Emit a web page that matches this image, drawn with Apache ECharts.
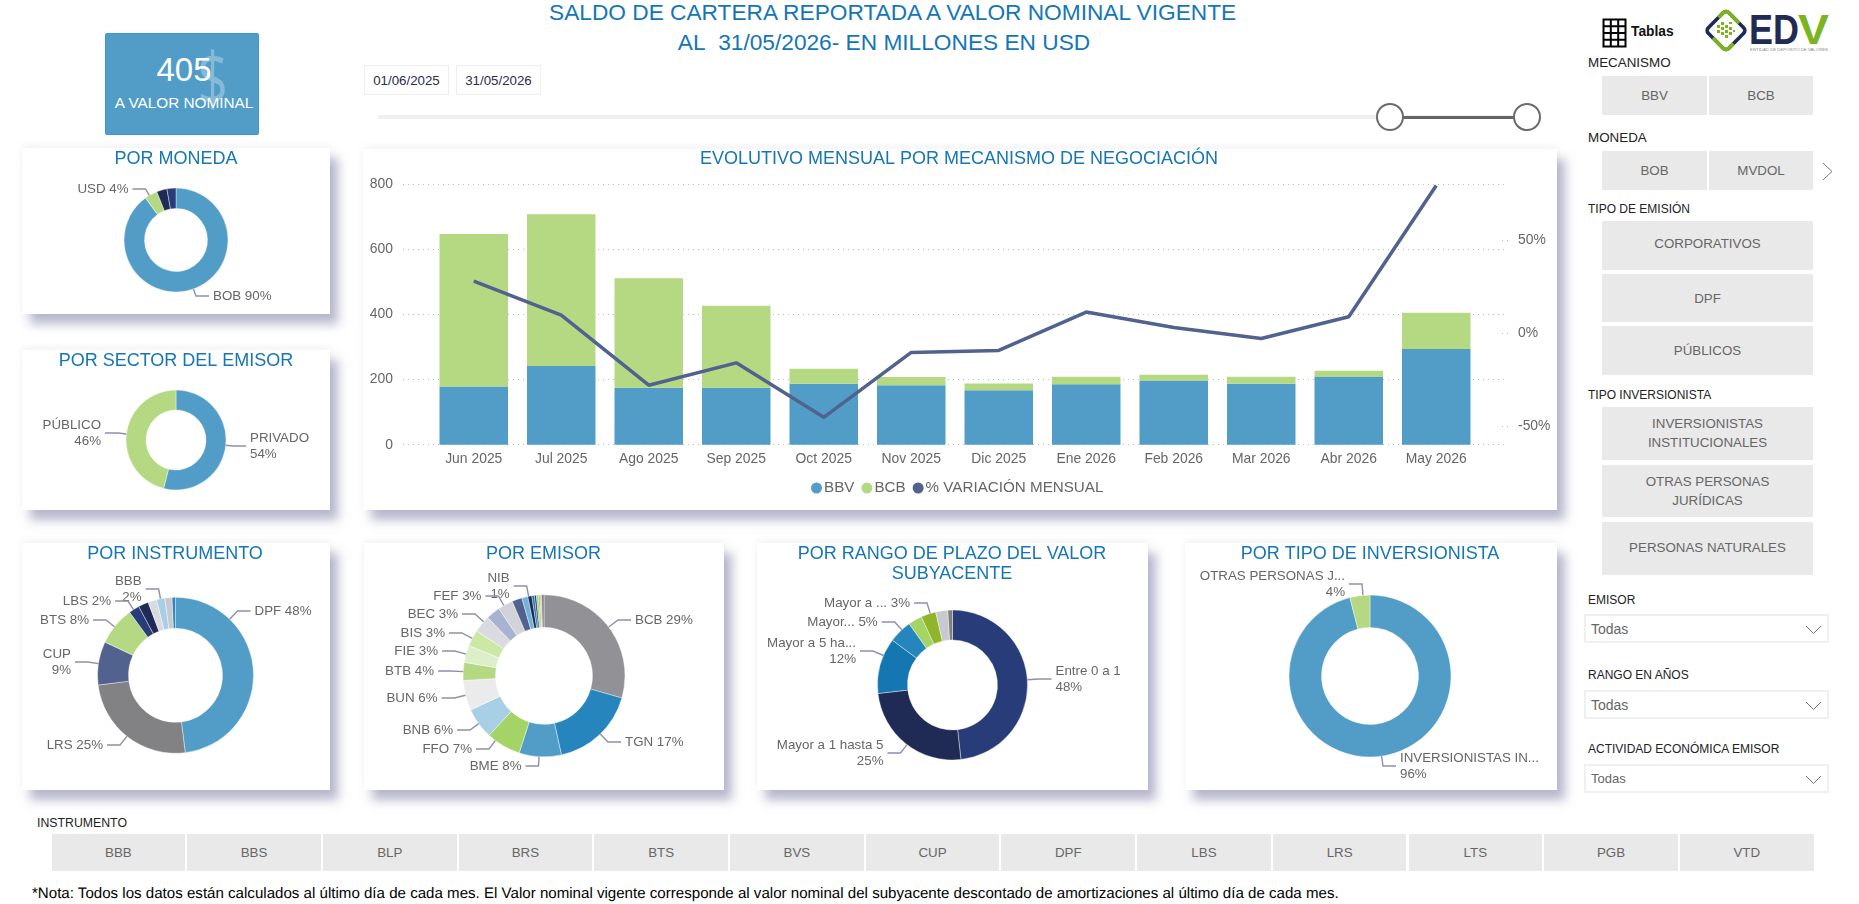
<!DOCTYPE html>
<html lang="es">
<head>
<meta charset="utf-8">
<title>Saldo de cartera</title>
<script src="https://cdn.jsdelivr.net/npm/echarts@6/dist/echarts.min.js"></script>
<style>
  html, body { margin: 0; padding: 0; background: #fff; width: 1859px; height: 904px; overflow: hidden; }
  body { font-family: "Liberation Sans", Arial, sans-serif; position: relative; }
  .abs { position: absolute; box-sizing: border-box; }
  .panel { background: #fff; box-shadow: 8px 10px 10px rgba(112,114,156,.5), 0 -3px 6px rgba(225,225,238,.35); }
  .head { color: #1576b6; font-size: 22.7px; white-space: nowrap; transform: translateX(-50%); line-height: 26px; }
  .kpi { background: #519dc8; border: 1px solid #3a97d2; border-radius: 2px; color: #fff; overflow: hidden; }
  .date { border: 1px solid #eeeef0; color: #2c2c4c; font-size: 13.3px; display: flex; align-items: center; justify-content: center; }
  .cap { color: #222; white-space: nowrap; line-height: 16px; transform: translateY(-50%); }
  .btn { background: #e9e9e9; color: #666; font-size: 13.33px; display: flex; align-items: center; justify-content: center; text-align: center; line-height: 19px; }
  .drop { border: 2px solid #f0f0f1; color: #666; font-size: 14px; display: flex; align-items: center; padding-left: 5px; }
  .note { color: #000; font-size: 15.1px; white-space: nowrap; line-height: 18px; transform: translateY(-50%); text-rendering: geometricPrecision; }
  #chart { position: absolute; left: 0; top: 0; width: 1859px; height: 904px; }
</style>
</head>
<body>
<div id="chrome"></div>
<div id="chart"></div>
<script>
// Monthly balance by trading mechanism
const months = ['Jun 2025','Jul 2025','Ago 2025','Sep 2025','Oct 2025','Nov 2025','Dic 2025','Ene 2026','Feb 2026','Mar 2026','Abr 2026','May 2026'];
const bbvValues = [179,242,175,175,187,183,167,186,197,187,208,294];
const bcbValues = [468,466,336,252,46,25,21,23,18,22,19,111];
const variationValues = [28,9.7,-28,-16,-45.3,-10.4,-9.3,11.3,3,-2.9,8.8,79.4];

// Donut breakdowns, clockwise from twelve o'clock
const monedaNames = ['BOB','USD','MVDOL','UFV'];
const monedaValues = [90,4,3.2,2.8];
const sectorNames = ['PRIVADO','PÚBLICO'];
const sectorValues = [54,46];
const instrumentoNames = ['DPF','LRS','CUP','BTS','LBS','BLP','BBS','BBB','BRS','BVS'];
const instrumentoValues = [48,25,9,8,2.2,2.1,1.8,1.7,1.5,0.7];
const emisorNames = ['BCB','TGN','BME','FFO','BNB','BUN','BTB','FIE','BIS','BEC','BGA','FEF','BPR','NIB','BSO','BIE','TCB','BDP','ECO','SOL','OTR'];
const emisorValues = [29.4,17.1,8.4,6.9,6.2,6,3.6,3.4,3.3,3.4,2.8,3,2,1.2,0.8,0.5,0.4,0.4,0.3,0.3,0.5];
const rangoNames = ['Entre 0 a 1','Mayor a 1 hasta 5','Mayor a 5 ha...','Mayor...','Mayor a 10','Mayor a ...','Mayor a 20','Mayor a 25'];
const rangoValues = [48.2,25,12,5,3,3.2,2.6,1];
const tipoNames = ['INVERSIONISTAS IN...','OTRAS PERSONAS J...'];
const tipoValues = [96,4];

// Slicer buttons along the bottom
const instrumentoButtons = ['BBB','BBS','BLP','BRS','BTS','BVS','CUP','DPF','LBS','LRS','LTS','PGB','VTD'];

const BLUE = '#519dc8', GREEN = '#b5d983', NAVY = '#283c7a', INK = '#1f2a55', SLATE = '#51628f';
const palettes = {
  moneda: [BLUE, GREEN, INK, NAVY],
  sector: [BLUE, GREEN],
  instrumento: [BLUE, '#828285', SLATE, GREEN, NAVY, INK, '#dadbe0', '#a8cfe6', '#c8c9ce', '#2a86bc'],
  emisor: ['#929196','#2685bc',BLUE,'#a3d465','#a8cfe6','#ebebeb',GREEN,'#dcefc8','#cbe8a5','#dadbe0','#a9b3d1','#d2d3d8',SLATE,'#6fb2da',INK,'#1477b2',NAVY,'#a3d465','#8fb52b','#c8c9ce','#828285'],
  rango: [NAVY, INK, '#1477b2', '#2685bc', '#a3d465', '#8fb52b', '#c8c9ce', '#7f7f7f'],
  tipo: [BLUE, GREEN]
};

// Where each outside label sits: [x, y, align, wrapped onto two lines]
const labelSpots = {
  moneda: { BOB: [213,296,'left'], USD: [128.5,189,'right'] },
  sector: { 'PRIVADO': [250,446,'left',1], 'PÚBLICO': [101,433,'right',1] },
  instrumento: { DPF:[254.5,611,'left'], LRS:[103,745,'right'], CUP:[71,662,'right',1], BTS:[89,620,'right'], LBS:[111,601,'right'], BBB:[141.6,589,'right',1] },
  emisor: { BCB:[635,620,'left'], TGN:[625,742,'left'], BME:[521.5,766,'right'], FFO:[472,749,'right'], BNB:[453,730,'right'], BUN:[437.5,698,'right'], BTB:[434,671,'right'], FIE:[438,651,'right'], BIS:[445,633,'right'], BEC:[458,614,'right'], FEF:[481.4,596,'right'], NIB:[509.7,586,'right',1] },
  rango: { 'Entre 0 a 1':[1055.5,679,'left',1], 'Mayor a 1 hasta 5':[883.5,753,'right',1], 'Mayor a 5 ha...':[856,651,'right',1], 'Mayor...':[877.7,622,'right'], 'Mayor a ...':[910,603,'right'] },
  tipo: { 'INVERSIONISTAS IN...':[1400,766,'left',1], 'OTRAS PERSONAS J...':[1345,584,'right',1] }
};

const leaderElements = [];

// Elbow from a label to the nearest point of the ring: a short run, then radially in
function addLeaders(key, cx, cy, outer) {
  Object.values(labelSpots[key]).forEach(([x, y, align]) => {
    const sign = align === 'left' ? -1 : 1;
    const startX = x + sign * 4;
    const midX = startX + sign * 13;
    const dx = midX - cx, dy = y - cy;
    const k = outer / Math.hypot(dx, dy);
    leaderElements.push({
      type: 'polyline', silent: true, z: 10,
      shape: { points: [[startX, y], [midX, y], [cx + dx * k, cy + dy * k]] },
      style: { fill: 'none', stroke: '#8f90aa', lineWidth: 1.4 }
    });
  });
}

function donut(key, names, values, cx, cy, inner, outer) {
  const spots = labelSpots[key];
  addLeaders(key, cx, cy, outer);
  return {
    type: 'pie',
    center: [cx, cy],
    radius: [inner, outer],
    startAngle: 90,
    avoidLabelOverlap: false,
    itemStyle: { borderColor: '#fff', borderWidth: 0.4 },
    color: palettes[key],
    label: {
      color: '#666',
      fontSize: 13.33,
      lineHeight: 16,
      fontFamily: 'Liberation Sans',
      formatter: p => {
        const s = spots[p.name];
        return p.name + (s && s[3] ? '\n' : ' ') + Math.round(p.percent) + '%';
      }
    },
    labelLine: { show: false },
    labelLayout: p => {
      const s = spots[names[p.dataIndex]];
      return s ? { x: s[0], y: s[1], align: s[2], verticalAlign: 'middle' } : {};
    },
    data: names.map((n, i) => spots[n]
      ? { name: n, value: values[i] }
      : { name: n, value: values[i], label: { show: false } })
  };
}

function heading(text, x, y) {
  return {
    text, left: x, top: y, textAlign: 'center', textVerticalAlign: 'middle', padding: 0,
    textStyle: { color: '#1576b6', fontSize: 18, fontWeight: 'normal', fontFamily: 'Liberation Sans', lineHeight: 20 }
  };
}

const chart = echarts.init(document.getElementById('chart'));
const plot = { top: 184.3, height: 260.4 };

const donuts = [
  donut('moneda', monedaNames, monedaValues, 176, 240, 31.5, 52),
  donut('sector', sectorNames, sectorValues, 176, 440, 30, 50),
  donut('instrumento', instrumentoNames, instrumentoValues, 175.5, 675.3, 47, 78),
  donut('emisor', emisorNames, emisorValues, 544, 675.8, 48.5, 81),
  donut('rango', rangoNames, rangoValues, 952.5, 685, 45, 75),
  donut('tipo', tipoNames, tipoValues, 1370, 676, 48.5, 81)
];

chart.setOption({
  animation: false,
  backgroundColor: 'transparent',
  title: [
    heading('POR MONEDA', 176, 159),
    heading('POR SECTOR DEL EMISOR', 176, 361),
    heading('EVOLUTIVO MENSUAL POR MECANISMO DE NEGOCIACIÓN', 959, 159.5),
    heading('POR INSTRUMENTO', 175, 554),
    heading('POR EMISOR', 543.6, 554),
    heading('POR RANGO DE PLAZO DEL VALOR\nSUBYACENTE', 952, 564),
    heading('POR TIPO DE INVERSIONISTA', 1370, 554)
  ],
  legend: {
    left: 806, top: 475.5, itemWidth: 11, itemHeight: 11, itemGap: 7, icon: 'circle',
    textStyle: { color: '#666', fontSize: 15.2, fontFamily: 'Liberation Sans', padding: [0, 0, 0, -3] },
    data: ['BBV', 'BCB', '% VARIACIÓN MENSUAL']
  },
  grid: [
    { left: 430, width: 1050, top: plot.top, height: plot.height },
    { left: 403, width: 1105, top: plot.top, height: plot.height }
  ],
  xAxis: [
    { type: 'category', gridIndex: 0, data: months, axisLine: { show: false }, axisTick: { show: false },
      axisLabel: { color: '#666', fontSize: 13.9, margin: 7, interval: 0, fontFamily: 'Liberation Sans' } },
    { type: 'value', gridIndex: 1, show: false, min: 0, max: 1, splitLine: { show: false } }
  ],
  yAxis: [
    { type: 'value', gridIndex: 0, min: 0, max: 800, interval: 200, show: false, splitLine: { show: false } },
    { type: 'value', gridIndex: 1, position: 'left', min: 0, max: 800, interval: 200,
      axisLine: { show: false }, axisTick: { show: false },
      axisLabel: { color: '#666', fontSize: 13.9, margin: 10, padding: [4, 0, 0, 0], fontFamily: 'Liberation Sans' },
      splitLine: { show: true, lineStyle: { color: '#bdbdbd', type: [1, 4], width: 1 } } },
    { type: 'value', gridIndex: 0, position: 'right', offset: 28, min: -60, max: 80, interval: 20,
      axisLine: { show: false },
      axisTick: { show: true, inside: true, length: 8, customValues: [-50, 0, 50], lineStyle: { color: '#bdbdbd', type: [1, 4] } },
      axisLabel: { color: '#666', fontSize: 13.9, margin: 10, padding: [3, 0, 0, 0], customValues: [-50, 0, 50], formatter: v => v + '%', fontFamily: 'Liberation Sans' },
      splitLine: { show: false } }
  ],
  graphic: { elements: leaderElements },
  series: [
    { name: 'BBV', type: 'bar', stack: 'saldo', xAxisIndex: 0, yAxisIndex: 0, barWidth: 68.5, data: bbvValues, itemStyle: { color: BLUE } },
    { name: 'BCB', type: 'bar', stack: 'saldo', xAxisIndex: 0, yAxisIndex: 0, barWidth: 68.5, data: bcbValues, itemStyle: { color: GREEN } },
    { name: '% VARIACIÓN MENSUAL', type: 'line', xAxisIndex: 0, yAxisIndex: 2, data: variationValues, symbol: 'none', z: 5,
      itemStyle: { color: SLATE }, lineStyle: { color: SLATE, width: 3.5 } },
    ...donuts
  ]
});

// Report frame: cards, slicers, date range, logo
const chrome = document.getElementById('chrome');
function box(cls, x, y, w, h, html, extra) {
  const d = document.createElement('div');
  d.className = 'abs ' + cls;
  d.style.cssText = `left:${x}px;top:${y}px;` + (w != null ? `width:${w}px;` : '') + (h != null ? `height:${h}px;` : '') + (extra || '');
  if (html != null) d.innerHTML = html;
  chrome.appendChild(d);
  return d;
}

[[22,148,308,166],[22,350,308,160],[363,149,1194,361],[22,543,308,247],[364,543,360,247],[757,543,391,247],[1185,543,372,247]]
  .forEach(p => box('panel', p[0], p[1], p[2], p[3]));

box('head', 892.6, -1, null, null, 'SALDO DE CARTERA REPORTADA A VALOR NOMINAL VIGENTE');
box('head', 884, 28.5, null, null, 'AL&nbsp; 31/05/2026- EN MILLONES EN USD');

box('kpi', 105, 33, 154, 102,
  '<div class="abs" style="left:86px;top:-3px;width:40px;text-align:center;font:400 74px/92px \'Open Sans\';color:rgba(255,255,255,.3);transform:scaleX(.72)">$</div>' +
  '<div class="abs" style="left:0;width:156px;top:17px;text-align:center;font-size:33px;line-height:38px">405</div>' +
  '<div class="abs" style="left:0;width:156px;top:60px;text-align:center;font-size:15.3px;line-height:18px;white-space:nowrap">A VALOR NOMINAL</div>');

box('date', 364, 65, 85, 30, '01/06/2025');
box('date', 456, 65, 85, 30, '31/05/2026');
box('', 378, 115, 1148, 4, null, 'background:#f0f0f1;');
box('', 1389, 115.5, 138, 3, null, 'background:#666;');
[1389.5, 1526.5].forEach(x => box('', x - 14, 103, 28, 28, null, 'border:2px solid #6b6b6b;border-radius:50%;background:#fff;'));

chrome.insertAdjacentHTML('beforeend',
  `<svg class="abs" style="left:1600px;top:16px" width="30" height="33" viewBox="0 0 30 33">
     <path d="M3.5 3.5H25.5V30.5H3.5ZM10.8 3.5V30.5M18.2 3.5V30.5M3.5 10.2H25.5M3.5 17H25.5M3.5 23.8H25.5" fill="none" stroke="#000" stroke-width="2"/>
   </svg>
   <div class="abs" style="left:1631px;top:24px;font-weight:bold;font-size:13.8px;line-height:16px;color:#111">Tablas</div>
   <svg class="abs" style="left:1700px;top:5px" width="135" height="50" viewBox="0 0 135 50">
     <g transform="translate(26 25.5) rotate(45)">
       <rect x="-14.5" y="-14.5" width="29" height="29" rx="4" fill="#fff" stroke="#1f2a55" stroke-width="3.6"/>
       <path d="M-14.5 -4V-10.5Q-14.5 -14.5 -10.5 -14.5H4" fill="none" stroke="#7ab51d" stroke-width="3.6"/>
       <path d="M14.5 4V10.5Q14.5 14.5 10.5 14.5H-4" fill="none" stroke="#7ab51d" stroke-width="3.6"/>
     </g>
     <path d="M17 20h3v3h-3zM21 17h3v3h-3zM17 25h3v3h-3zM21 22h3v3h-3zM21 27h3v3h-3zM25 20h3v3h-3zM25 25h3v3h-3zM25 30h3v3h-3zM29 17h3v2h-3zM29 22h3v3h-3zM29 27h3v3h-3zM33 25h2v2h-2z" fill="#7ab51d"/>
     <text x="49" y="39" font-family="Liberation Sans" font-weight="bold" font-size="42" fill="#1f2a55" textLength="50" lengthAdjust="spacingAndGlyphs">ED</text>
     <text x="98" y="39" font-family="Liberation Sans" font-weight="bold" font-size="42" fill="#7ab51d" textLength="31" lengthAdjust="spacingAndGlyphs">V</text>
     <text x="50" y="46" font-family="Liberation Sans" font-size="4" fill="#8a8a8a" textLength="78" lengthAdjust="spacingAndGlyphs">ENTIDAD DE DEPÓSITO DE VALORES</text>
   </svg>`);

const caption = (text, y, size, x) => box('cap', x || 1588, y, null, null, text, `font-size:${size}px;`);
const button = (text, x, y, w, h, lift) => box('btn', x, y, w, h, text, lift ? `padding-bottom:${lift}px;` : '');

caption('MECANISMO', 63, 13.4);
button('BBV', 1602, 76, 105, 39);
button('BCB', 1709, 76, 104, 39);
caption('MONEDA', 138, 13.4);
button('BOB', 1602, 151, 105, 39);
button('MVDOL', 1709, 151, 104, 39);
chrome.insertAdjacentHTML('beforeend',
  '<svg class="abs" style="left:1821px;top:161px" width="13" height="21"><path d="M2 2L11 10.5L2 19" fill="none" stroke="#777" stroke-width="1"/></svg>');
caption('TIPO DE EMISIÓN', 209, 12);
button('CORPORATIVOS', 1602, 221, 211, 48.5, 4);
button('DPF', 1602, 274, 211, 48);
button('PÚBLICOS', 1602, 326, 211, 49);
caption('TIPO INVERSIONISTA', 395, 12);
button('INVERSIONISTAS<br>INSTITUCIONALES', 1602, 407, 211, 53, 2);
button('OTRAS PERSONAS<br>JURÍDICAS', 1602, 465, 211, 52);
button('PERSONAS NATURALES', 1602, 522, 211, 53, 2);

[['EMISOR', 600, 614, 14], ['RANGO EN AÑOS', 675, 690, 14], ['ACTIVIDAD ECONÓMICA EMISOR', 749, 764, 13]].forEach(r => {
  caption(r[0], r[1], 12);
  box('drop', 1584, r[2], 245, 29, 'Todas', `font-size:${r[3]}px;`);
  chrome.insertAdjacentHTML('beforeend',
    `<svg class="abs" style="left:1805px;top:${r[2] + 11}px" width="17" height="10"><path d="M1 1L8.5 8.5L16 1" fill="none" stroke="#777" stroke-width="1"/></svg>`);
});

caption('INSTRUMENTO', 823, 12.3, 37);
instrumentoButtons.forEach((t, i) => button(t, 51.5 + i * 135.7, 834, 133.7, 37));

box('note', 32, 894, null, null, '*Nota: Todos los datos están calculados al último día de cada mes. El Valor nominal vigente corresponde al valor nominal del subyacente descontado de amortizaciones al último día de cada mes.');
</script>
</body>
</html>
